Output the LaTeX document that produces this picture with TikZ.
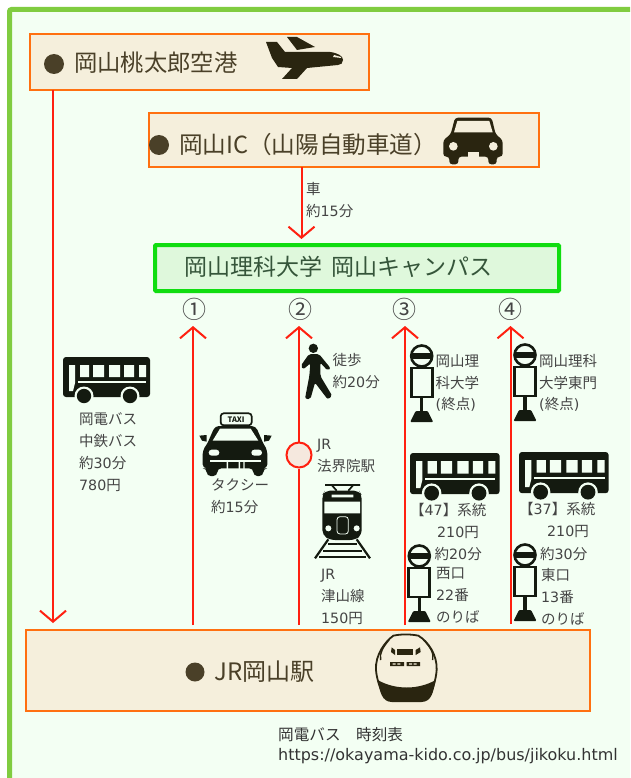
\documentclass[tikz,border=0pt]{standalone}
\usepackage{fontspec}
\setmainfont{Noto Sans CJK JP}
\newfontfamily\latn{DejaVu Sans}[Scale=0.98]
\usetikzlibrary{arrows.meta}
\definecolor{pagebg}{HTML}{F3FFF3}
\definecolor{frameg}{HTML}{80CC40}
\definecolor{boxfill}{HTML}{F5EFDC}
\definecolor{boxline}{HTML}{FF7010}
\definecolor{unifill}{HTML}{DFF8DC}
\definecolor{uniline}{HTML}{10DD10}
\definecolor{redl}{HTML}{FF2010}
\definecolor{stationc}{HTML}{F5E8DE}
\definecolor{titlec}{HTML}{4A4028}
\definecolor{unic}{HTML}{35553A}
\definecolor{lblc}{HTML}{444444}
\definecolor{ink}{HTML}{141A10}
\definecolor{inkb}{HTML}{2A2510}
\tikzset{
 placebox/.style={draw=boxline,fill=boxfill,line width=2pt,inner sep=0pt,outer sep=0pt,anchor=north west},
 title/.style={text=titlec,font=\fontsize{23.3}{26}\selectfont,inner sep=0pt,anchor=west},
 bulletn/.style={circle,fill=titlec,minimum size=20pt,inner sep=0pt},
 lbl/.style={text=lblc,font=\fontsize{14.5}{21.8}\selectfont,inner sep=0pt,anchor=west,align=left},
 num/.style={text=lblc,font=\fontsize{24}{26}\selectfont,inner sep=0pt},
 wire/.style={draw=redl,line width=2pt},
 arr/.style={wire,-{Straight Barb[length=11pt,width=26pt,line width=2pt]}},
 busicon/.pic={
  \fill[ink,rounded corners=3pt] (0,0) rectangle (87,40);
  \fill[pagebg] (6,8) -- (12,8) -- (12,26) -- (10,34) -- (6,34) -- cycle;
  \fill[pagebg] (17,8) rectangle (26,20) (30,8) rectangle (41,20) (46,8) rectangle (57,20) (61,8) rectangle (71,20) (76,8) rectangle (83,20);
  \fill[pagebg] (15,24) rectangle (83,26);
  \fill[pagebg] (21,39) circle (9.5) (67,39) circle (9.5);
  \fill[ink] (21,39) circle (7.2) (67,39) circle (7.2);
 },
 stopicon/.pic={
  \draw[ink,line width=2.6pt,fill=pagebg] (0,12) circle (10.5);
  \fill[ink] (-10.5,9) rectangle (10.5,15);
  \fill[ink] (-1.7,23) rectangle (1.7,70);
  \draw[ink,line width=2.8pt,fill=pagebg] (-10.5,24) rectangle (10.5,53);
  \fill[ink,rounded corners=1pt] (-6,67) -- (6,67) -- (11.5,78) -- (-11.5,78) -- cycle;
 }
}
\begin{document}
\begin{tikzpicture}[x=1pt,y=-1pt]
\useasboundingbox (0,0) rectangle (630,778);
\fill[white] (0,0) rectangle (630,778);
% frame
\fill[pagebg] (10,10) rectangle (630,778);
\draw[frameg,line width=5pt,rounded corners=2pt] (9.5,778) -- (9.5,9.5) -- (630,9.5);
% places
\node[placebox,minimum width=339pt,minimum height=56pt] (airport) at (30,34) {};
\node[placebox,minimum width=390pt,minimum height=54pt] (ic) at (148.5,113.5) {};
\node[placebox,draw=uniline,fill=unifill,line width=4pt,rounded corners=1pt,minimum width=404pt,minimum height=46pt] (uni) at (155,245) {};
\node[placebox,minimum width=564pt,minimum height=81pt] (jr) at (26,630) {};
\node[bulletn] (b1) at (54,64) {};
\node[title] (t1) at (74,63) {岡山桃太郎空港};
\node[bulletn] (b2) at (159,145) {};
\node[title,font=\fontsize{23.6}{26}\selectfont] (t2) at (179,145) {岡山IC（山陽自動車道）};
\node[title,text=unic,font=\fontsize{23}{26}\selectfont] (t3) at (184,267) {岡山理科大学 \hspace{4pt}岡山キャンパス};
\node[bulletn,minimum size=19pt] (b4) at (195,672) {};
\node[title,font=\fontsize{24}{26}\selectfont] (t4) at (214,672) {JR岡山駅};
% numbers
\node[num] (n1) at (194,309) {①};
\node[num] (n2) at (300,309) {②};
\node[num] (n3) at (404,309) {③};
\node[num] (n4) at (510,309) {④};
% helper columns
\coordinate (xa) at (53,0);
\coordinate (xb) at (301.5,0);
\coordinate (x1) at (193,326);
\coordinate (x2) at (299,326);
\coordinate (x3) at (405,326);
\coordinate (x4) at (510.5,326);
\node[circle,draw=redl,fill=stationc,line width=2pt,minimum size=25pt,inner sep=0pt] (st) at (299,455) {};
% connectors
\draw[arr,shorten >=7pt] (airport.south west -| xa) -- (jr.north west -| xa);
\draw[arr,shorten >=6pt] (ic.south west -| xb) -- (uni.north west -| xb);
\draw[arr,shorten <=5pt] (jr.north west -| x1) -- (x1);
\draw[wire,shorten <=5pt] (jr.north west -| st) -- (st);
\draw[arr] (st) -- (x2);
\draw[arr,shorten <=5pt] (jr.north west -| x3) -- (x3);
\draw[arr,shorten <=6pt] (jr.north west -| x4) -- (x4);
% labels
\node[lbl] (l1) at (306,200) {車\\約{\latn 15}分};
\node[lbl] (l2) at (79,452) {岡電バス\\中鉄バス\\約{\latn 30}分\\{\latn 780}円};
\node[lbl] (l3) at (211,496.5) {タクシー\\約{\latn 15}分};
\node[lbl] (l4) at (332.5,371) {徒歩\\約{\latn 20}分};
\node[lbl] (l5) at (317,456) {{\latn JR}\\法界院駅};
\node[lbl] (l6) at (321,597) {{\latn JR}\\津山線\\{\latn 150}円};
\node[lbl] (l7) at (435.5,383) {岡山理\\科大学\\{\latn (}終点{\latn )}};
\node[lbl] (l8) at (539,383) {岡山理科\\大学東門\\{\latn (}終点{\latn )}};
\node[lbl] (l9) at (410,521) {【{\latn 47}】系統\\\hspace{27pt}{\latn 210}円};
\node[lbl] (l10) at (519,520) {【{\latn 37}】系統\\\hspace{28pt}{\latn 210}円};
\node[lbl] (l11) at (434.5,554) {約{\latn 20}分};
\node[lbl] (l12) at (436,595) {西口\\{\latn 22}番\\のりば};
\node[lbl] (l13) at (540,554) {約{\latn 30}分};
\node[lbl] (l14) at (541,597) {東口\\{\latn 13}番\\のりば};
\node[lbl,text=black!80,font=\fontsize{15.6}{20}\selectfont] (l15) at (278,745.5) {岡電バス　時刻表\\{\latn\fontsize{16.3}{20}\selectfont https://okayama-kido.co.jp/bus/jikoku.html}};
% bus icons
\pic at (63,357) {busicon};
\pic[scale=1.03] at (410,453) {busicon};
\pic[scale=1.03] at (519,452) {busicon};
% stop icons
\pic at (421.7,344) {stopicon};
\pic at (525,343) {stopicon};
\pic at (419.3,544) {stopicon};
\pic at (525,543) {stopicon};
% plane
\fill[inkb] (266,42) -- (277,42) -- (285,52) -- (330,52) .. controls (338,53) and (343,56) .. (343,60) .. controls (343,63) and (341,65) .. (338,65) -- (307,68) -- (297,79) -- (282,79) -- (292,68) -- (278,67) -- (272,58) -- cycle;
\fill[inkb] (287,37) -- (297,37) -- (315,47) -- (297,50) -- cycle;
\fill[boxfill] (334,55) -- (341,57) -- (341,58) -- (333,57) -- cycle;
% car
\begin{scope}[shift={(430,105)},scale=1/3]
\fill[inkb,rounded corners=3pt] (75,38) -- (185,38) -- (197,88) -- (218,105) -- (218,155) -- (200,155) -- (200,178) -- (175,178) -- (175,155) -- (85,155) -- (85,178) -- (58,178) -- (58,155) -- (40,155) -- (40,105) -- (62,88) -- cycle;
\fill[boxfill] (82,48) -- (178,48) -- (188,82) -- (72,82) -- cycle;
\fill[boxfill] (70,124) circle (13) (190,124) circle (13);
\fill[boxfill] (113,142) rectangle (148,155);
\end{scope}
% taxi
\begin{scope}[shift={(190,400)},scale=1/3]
\draw[ink,line width=1.7pt,fill=pagebg,rounded corners=3pt] (92,40) rectangle (185,76);
\node[text=ink,inner sep=0pt,font=\fontsize{7.5}{8}\selectfont\bfseries] (taxisign) at (138,58) {TAXI};
\fill[ink] (28,107) -- (50,105) -- (50,125) -- (36,122) -- cycle (245,107) -- (222,105) -- (222,125) -- (237,122) -- cycle;
\fill[ink,rounded corners=4pt] (75,78) -- (197,78) -- (222,135) -- (232,150) -- (232,205) -- (220,205) -- (220,228) -- (190,228) -- (190,205) -- (82,205) -- (82,228) -- (50,228) -- (50,205) -- (38,205) -- (38,150) -- (50,135) -- cycle;
\fill[pagebg] (90,86) -- (182,86) -- (205,122) -- (68,122) -- cycle;
\fill[pagebg,rounded corners=3pt] (56,149) rectangle (88,167) (184,149) rectangle (216,167);
\fill[pagebg] (60,180) rectangle (212,185);
\fill[pagebg] (110,185) rectangle (114,207) (146,185) rectangle (150,207) (160,185) rectangle (164,207);
\end{scope}
% walker
\begin{scope}[shift={(295,340)},scale=1/3]
\fill[ink] (55,25) circle (14);
\fill[ink,rounded corners=2pt] (42,42) -- (72,42) -- (107,85) -- (98,92) -- (76,68) -- (76,108) -- (112,168) -- (98,178) -- (60,128) -- (46,178) -- (30,176) -- (43,108) -- (46,70) -- (25,88) -- (17,78) -- cycle;
\end{scope}
% train
\begin{scope}[shift={(305,480)},scale=1/3]
\draw[ink,line width=1.7pt] (60,15) -- (165,15) (80,15) -- (95,32) (145,15) -- (130,32);
\fill[ink,rounded corners=5pt] (52,45) -- (60,32) -- (162,32) -- (170,45) -- (170,165) -- (150,180) -- (75,180) -- (52,165) -- cycle;
\fill[pagebg] (58,65) rectangle (165,100) (80,44) rectangle (145,52);
\draw[pagebg,line width=.8pt,rounded corners=3pt] (96,110) rectangle (130,162);
\fill[pagebg] (70,145) circle (9) (155,145) circle (9);
\draw[ink,line width=2.2pt] (70,178) -- (30,235) (155,178) -- (195,235);
\draw[ink,line width=2.2pt] (70,192) -- (155,192) (55,212) -- (170,212) (42,230) -- (183,230);
\end{scope}
% shinkansen
\begin{scope}[shift={(365,630)},scale=1/3]
\fill[inkb] (38,150) .. controls (90,180) and (160,180) .. (212,150) .. controls (205,185) and (200,215) .. (170,216) -- (80,216) .. controls (50,215) and (45,185) .. (38,150) -- cycle;
\draw[inkb,line width=1.8pt] (190,200) .. controls (200,190) and (213,150) .. (215,120) .. controls (217,75) and (190,35) .. (160,17) .. controls (135,12) and (110,12) .. (85,17) .. controls (60,35) and (30,75) .. (33,120) .. controls (35,150) and (50,190) .. (60,200);
\draw[inkb,line width=1.4pt] (72,30) .. controls (55,50) and (42,70) .. (47,90) (176,30) .. controls (195,50) and (208,70) .. (203,90);
\fill[inkb] (95,58) rectangle (145,75);
\fill[inkb] (80,52) -- (90,60) -- (90,75) -- (78,66) -- cycle (165,52) -- (152,60) -- (152,75) -- (167,66) -- cycle;
\fill[inkb] (75,96) rectangle (117,108) (125,96) rectangle (165,108);
\fill[boxfill] (83,100) rectangle (92,104) (97,100) rectangle (106,104) (132,100) rectangle (141,104) (146,100) rectangle (155,104);
\end{scope}
\end{tikzpicture}
\end{document}
